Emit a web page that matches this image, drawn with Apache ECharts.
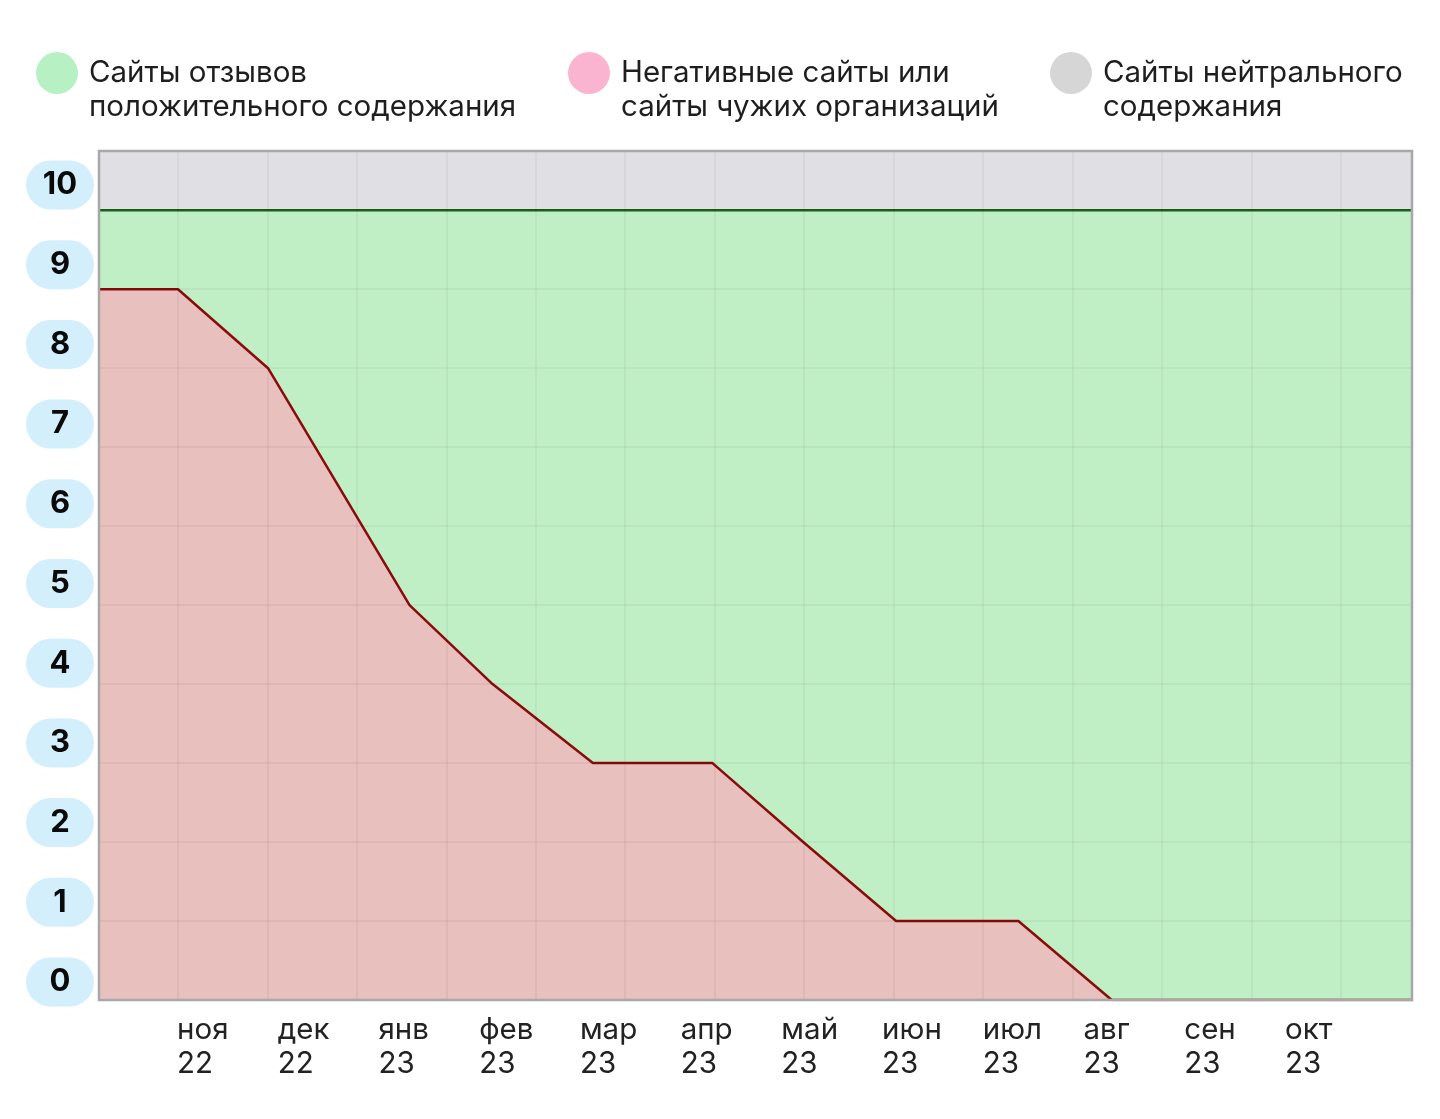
<!DOCTYPE html>
<html>
<head>
<meta charset="utf-8">
<script src="https://cdn.jsdelivr.net/npm/echarts@6/dist/echarts.min.js"></script>
<style>
    html, body { margin: 0; padding: 0; background: #fff; }
    #chart { width: 1440px; height: 1119px; }
</style>
</head>
<body>
<div id="chart"></div>
<script>
// подписи осей
const months = ['ноя\n22', 'дек\n22', 'янв\n23', 'фев\n23', 'мар\n23', 'апр\n23',
                'май\n23', 'июн\n23', 'июл\n23', 'авг\n23', 'сен\n23', 'окт\n23'];
const yTicks = ['0', '1', '2', '3', '4', '5', '6', '7', '8', '9', '10'];

// положение точек по горизонтали (в шагах сетки) и значения
const pointX   = [-0.883, 0, 1.007, 2.589, 3.517, 4.639, 5.976, 6.99, 8.029, 9.396, 10.44, 13.797];
const negative = [9, 9, 8, 5, 4, 3, 3, 2, 1, 1, 0, 0];
const positive = [1, 1, 2, 5, 6, 7, 7, 8, 9, 9, 10, 10];
const neutral  = [0.75, 0.75, 0.75, 0.75, 0.75, 0.75, 0.75, 0.75, 0.75, 0.75, 0.75, 0.75];

const names = {
    pos: 'Сайты отзывов\nположительного содержания',
    neg: 'Негативные сайты или\nсайты чужих организаций',
    neu: 'Сайты нейтрального\nсодержания'
};

const FONT = 'Inter';

// значение идёт первым измерением, чтобы стек шёл по оси y
function pairs(vals) {
    return pointX.map(function (x, i) { return [vals[i], x]; });
}

function legendAt(left, name, color) {
    return {
        left: left,
        top: 22,
        padding: 0,
        itemWidth: 54,
        itemHeight: 42,
        selectedMode: false,
        itemStyle: { borderWidth: 0 },
        lineStyle: { width: 0 },
        // пустая первая строка: кружок стоит напротив первой строки подписи
        formatter: function (n) { return '\n' + n; },
        textStyle: {
            fontFamily: FONT,
            fontSize: 29.5,
            color: '#1e1e1e',
            lineHeight: 34
        },
        data: [{ name: name, icon: 'circle', itemStyle: { color: color } }]
    };
}

let chart = echarts.init(document.getElementById('chart'));

let option = {
    animation: false,
    textStyle: { fontFamily: FONT },
    legend: [
        legendAt(36, names.pos, '#b7f1c3'),
        legendAt(568, names.neg, '#fab4cf'),
        legendAt(1050, names.neu, '#d6d6d6')
    ],
    grid: [
        {
            left: 99, right: 28, top: 151, bottom: 119,
            show: true, z: 10,
            backgroundColor: 'transparent',
            borderColor: '#a8a8a8', borderWidth: 2.5
        },
        { left: 177, right: 155, top: 185, bottom: 137, show: false }
    ],
    xAxis: [
        {
            type: 'value', gridIndex: 0, z: 6,
            min: -0.883, max: 13.797,
            splitNumber: 14, minInterval: 1, maxInterval: 1,
            axisLine: { show: false },
            axisTick: { show: false },
            axisLabel: { show: false },
            splitLine: { show: true, lineStyle: { color: 'rgba(0,0,0,0.055)', width: 1.5 } }
        },
        {
            type: 'category', gridIndex: 1, data: months, boundaryGap: false,
            axisLine: { show: false },
            axisTick: { show: false },
            splitLine: { show: false },
            axisLabel: {
                interval: 0, align: 'left', margin: 31,
                fontFamily: FONT, fontSize: 29.5, lineHeight: 34, color: '#222'
            }
        }
    ],
    yAxis: [
        {
            type: 'value', gridIndex: 0, z: 6,
            min: 0, max: 10.75, interval: 1,
            axisLine: { show: false },
            axisTick: { show: false },
            axisLabel: { show: false },
            splitLine: { show: true, lineStyle: { color: 'rgba(0,0,0,0.055)', width: 1.5 } }
        },
        {
            type: 'category', gridIndex: 1, data: yTicks, boundaryGap: false,
            axisLine: { show: false },
            axisTick: { show: false },
            splitLine: { show: false },
            axisLabel: {
                interval: 0, margin: 117, align: 'center',
                fontFamily: FONT, fontSize: 31, fontWeight: 700, color: '#0a0a0a',
                backgroundColor: '#d4effc', borderRadius: 25,
                width: 68, height: 49, lineHeight: 49
            }
        }
    ],
    series: [
        {
            name: names.neg, type: 'line', stack: 'all', z: 4,
            xAxisIndex: 0, yAxisIndex: 0,
            encode: { x: 1, y: 0 },
            data: pairs(negative),
            symbol: 'none',
            lineStyle: { color: '#8a0b0b', width: 2.5 },
            itemStyle: { color: '#fab4cf' },
            areaStyle: { color: '#e8c0bd', opacity: 1 }
        },
        {
            name: names.pos, type: 'line', stack: 'all', z: 3,
            xAxisIndex: 0, yAxisIndex: 0,
            encode: { x: 1, y: 0 },
            data: pairs(positive),
            symbol: 'none',
            lineStyle: { color: '#1d601d', width: 2.5 },
            itemStyle: { color: '#b7f1c3' },
            areaStyle: { color: '#c0efc6', opacity: 1 }
        },
        {
            name: names.neu, type: 'line', stack: 'all', z: 2,
            xAxisIndex: 0, yAxisIndex: 0,
            encode: { x: 1, y: 0 },
            data: pairs(neutral),
            symbol: 'none',
            lineStyle: { width: 0 },
            itemStyle: { color: '#d6d6d6' },
            areaStyle: { color: '#e0dfe3', opacity: 1 }
        }
    ]
};

chart.setOption(option);
</script>
</body>
</html>
